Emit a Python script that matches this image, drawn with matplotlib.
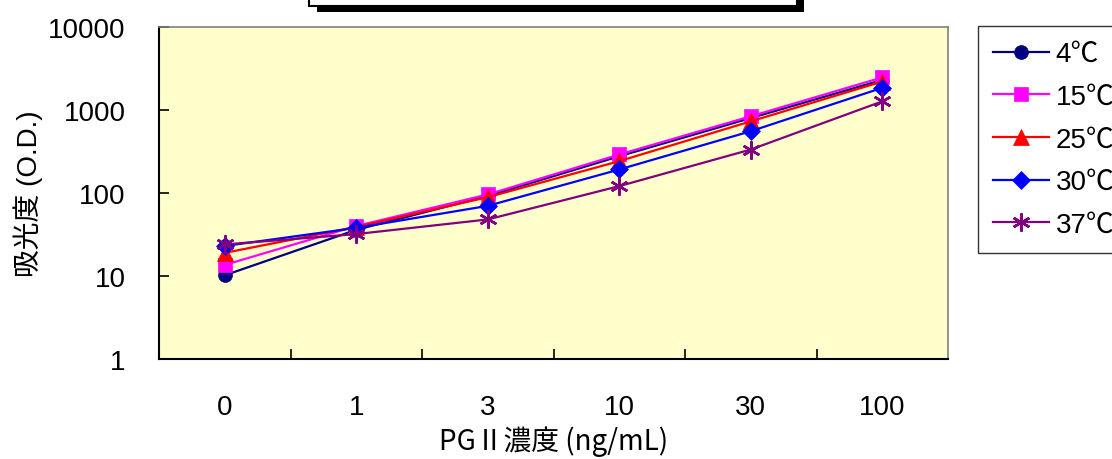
import matplotlib
matplotlib.use("Agg")
import matplotlib.pyplot as plt
from matplotlib.patches import Rectangle

# -------- data --------
conc_labels = ["0", "1", "3", "10", "30", "100"]
temps = ["4℃", "15℃", "25℃", "30℃", "37℃"]
od_4 = [10.2, 36, 92, 277, 800, 2300]
od_15 = [13.6, 40, 96, 291, 840, 2470]
od_25 = [19, 39, 89, 242, 730, 2200]
od_30 = [23, 38, 70, 192, 555, 1850]
od_37 = [24, 32, 48, 121, 334, 1270]

series = [od_4, od_15, od_25, od_30, od_37]
colors = ["#000080", "#FF00FF", "#FF0000", "#0000FF", "#800080"]
markers = ["o", "s", "^", "D", (6, 2, 0)]
msizes = [10, 10, 11, 9, 13]

plt.rcParams["font.family"] = ["Liberation Sans", "Noto Sans CJK JP", "DejaVu Sans"]

W, H = 1112, 460
fig = plt.figure(figsize=(W / 100, H / 100), dpi=100)
ax = fig.add_axes([159 / W, 1 - 360 / H, (948 - 159) / W, (360 - 28) / H])
ax.set_facecolor("#FFFFCC")

x = list(range(len(conc_labels)))
for vals, c, m, ms, lab in zip(series, colors, markers, msizes, temps):
    ax.plot(x, vals, color=c, marker=m, markersize=ms, linewidth=1.6,
            markeredgewidth=1.8 if m == (6, 2, 0) else 0.5,
            markeredgecolor=c, label=lab)

ax.set_yscale("log")
ax.set_ylim(1, 10000)
ax.set_yticks([1, 10, 100, 1000, 10000])
ax.set_yticklabels(["1", "10", "100", "1000", "10000"])
ax.minorticks_off()
ax.tick_params(axis="y", direction="in", length=7, width=1.2, pad=24, labelsize=20)

ax.set_xlim(-0.5, len(conc_labels) - 0.5)
ax.set_xticks([i + 0.5 for i in range(len(conc_labels) - 1)])
ax.set_xticklabels([])
ax.set_xticks(x, minor=True)
ax.set_xticklabels(conc_labels, minor=True)
ax.tick_params(axis="x", which="major", direction="in", length=7, width=1.2)
ax.tick_params(axis="x", which="minor", length=0, pad=25, labelsize=20)

for s in ["left", "bottom"]:
    ax.spines[s].set_color("black")
    ax.spines[s].set_linewidth(1.5)
for s in ["top", "right"]:
    ax.spines[s].set_color("#808080")
    ax.spines[s].set_linewidth(1.2)

ax.set_xlabel("PGⅡ濃度 (ng/mL)", fontsize=20, labelpad=4,
              family=["Noto Sans CJK JP", "DejaVu Sans"])
ax.set_ylabel("吸光度 (O.D.)", fontsize=20, labelpad=4)

leg = ax.legend(loc="upper left", bbox_to_anchor=(978 / W, 1 - 27 / H),
                bbox_transform=fig.transFigure, borderaxespad=0,
                fontsize=20, frameon=True, fancybox=False, handlelength=2.0,
                handletextpad=0.25, borderpad=0.55, labelspacing=0.6)
leg.get_frame().set_edgecolor("black")
leg.get_frame().set_linewidth(1.0)

# empty title box with shadow, cut off at the top
fig.add_artist(Rectangle((317 / W, 1 - 13 / H), (804 - 317) / W, 30 / H,
                         transform=fig.transFigure, facecolor="black",
                         edgecolor="none"))
fig.add_artist(Rectangle((309 / W, 1 - 7 / H), (797 - 309) / W, 30 / H,
                         transform=fig.transFigure, facecolor="white",
                         edgecolor="black", linewidth=1.5))

fig.savefig("out.png", dpi=100)
